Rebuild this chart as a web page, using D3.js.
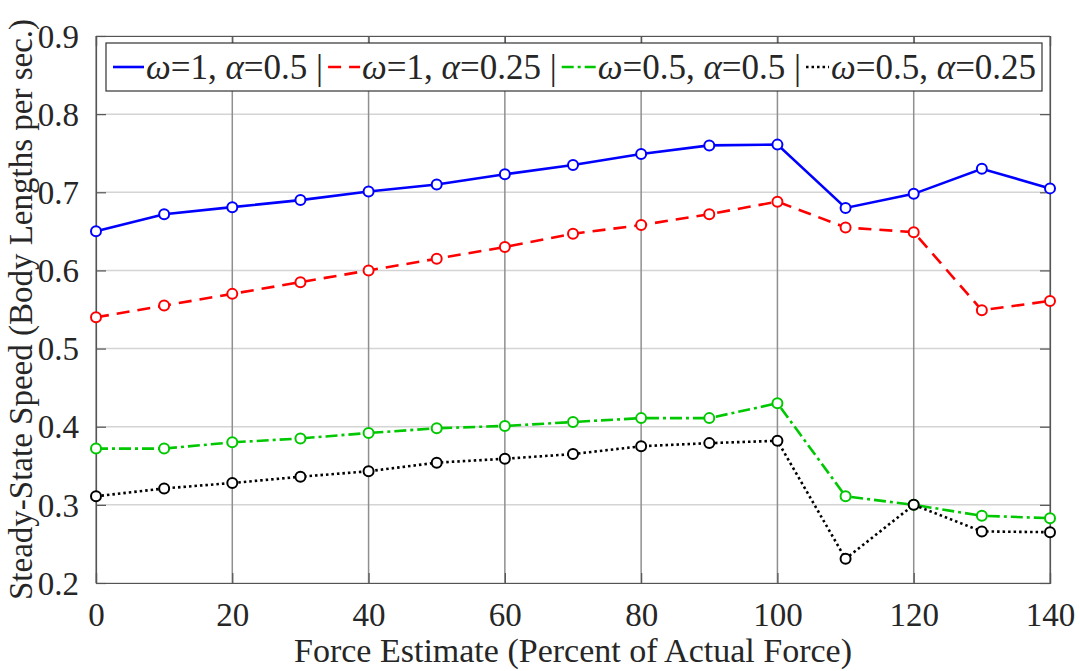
<!DOCTYPE html>
<html>
<head>
<meta charset="utf-8">
<script src="https://cdn.jsdelivr.net/npm/d3@7"></script>
<style>
  body { margin: 0; background: #fff; }
  text { font-family: "Liberation Serif", "Times New Roman", serif; fill: #262626; }
</style>
</head>
<body>
<div id="chart"></div>
<script>
const forceEstimate = [0, 10, 20, 30, 40, 50, 60, 70, 80, 90, 100, 110, 120, 130, 140]
const w1a050 = [0.650, 0.672, 0.681, 0.690, 0.701, 0.710, 0.723, 0.735, 0.749, 0.760, 0.761, 0.680, 0.698, 0.730, 0.705]
const w1a025 = [0.540, 0.555, 0.570, 0.585, 0.600, 0.615, 0.630, 0.647, 0.658, 0.672, 0.688, 0.655, 0.649, 0.549, 0.561]
const w05a050 = [0.372, 0.372, 0.380, 0.385, 0.392, 0.398, 0.401, 0.406, 0.411, 0.411, 0.430, 0.311, 0.300, 0.286, 0.283]
const w05a025 = [0.311, 0.321, 0.328, 0.336, 0.343, 0.354, 0.359, 0.365, 0.375, 0.379, 0.382, 0.231, 0.300, 0.266, 0.265]
const xTicks = [0, 20, 40, 60, 80, 100, 120, 140]
const yTicks = [0.2, 0.3, 0.4, 0.5, 0.6, 0.7, 0.8, 0.9]

const series = [
  { w: '1', a: '0.5', values: w1a050, color: '#0000ff', dash: null, sep: true },
  { w: '1', a: '0.25', values: w1a025, color: '#ff0000', dash: '13,8', sep: true },
  { w: '0.5', a: '0.5', values: w05a050, color: '#00c800', dash: '12,4,3,4', sep: true },
  { w: '0.5', a: '0.25', values: w05a025, color: '#000000', dash: '2.5,3', sep: false }
]

const margin = { top: 36, left: 96, right: 30, bottom: 88 }
const width = 1080 - margin.left - margin.right
const height = 671 - margin.top - margin.bottom

const svg = d3
  .select('#chart')
  .append('svg')
  .attr('width', 1080)
  .attr('height', 671)

const g = svg.append('g')
  .attr('transform', 'translate(' + margin.left + ',' + margin.top + ')')

const xPositionScale = d3.scaleLinear().domain([0, 140]).range([0, width])
const yPositionScale = d3.scaleLinear().domain([0.2, 0.9]).range([height, 0])

// grid
g.selectAll('.hgrid')
  .data(yTicks)
  .enter()
  .append('line')
  .attr('x1', 0)
  .attr('x2', width)
  .attr('y1', d => yPositionScale(d))
  .attr('y2', d => yPositionScale(d))
  .attr('stroke', '#d4d4d4')
  .attr('stroke-width', 1.5)

g.selectAll('.vgrid')
  .data(xTicks)
  .enter()
  .append('line')
  .attr('y1', 0)
  .attr('y2', height)
  .attr('x1', d => xPositionScale(d))
  .attr('x2', d => xPositionScale(d))
  .attr('stroke', '#8f8f8f')
  .attr('stroke-width', 1.5)

// axes (ticks point inward, MATLAB style)
const xAxis = d3.axisBottom(xPositionScale).tickValues(xTicks).tickSize(-10).tickPadding(20)
g.append('g')
  .attr('class', 'axis x-axis')
  .attr('transform', 'translate(0,' + height + ')')
  .call(xAxis)

const yAxis = d3.axisLeft(yPositionScale).tickValues(yTicks).tickSize(-10).tickPadding(17)
  .tickFormat(d3.format('.1f'))
g.append('g')
  .attr('class', 'axis y-axis')
  .call(yAxis)

g.append('g')
  .call(d3.axisTop(xPositionScale).tickValues(xTicks).tickSize(-10).tickFormat(''))
g.append('g')
  .attr('transform', 'translate(' + width + ',0)')
  .call(d3.axisRight(yPositionScale).tickValues(yTicks).tickSize(-10).tickFormat(''))

g.selectAll('.domain').attr('stroke', '#555').attr('stroke-width', 1.2)
g.selectAll('.tick line').attr('stroke', '#555').attr('stroke-width', 1.2)
g.selectAll('.tick text')
  .style('font-family', '"Liberation Serif", serif')
  .attr('font-size', 33)
  .attr('fill', '#262626')
g.selectAll('.y-axis .tick text').attr('dy', '0.34em')

// lines
const line = d3.line()
  .x((d, i) => xPositionScale(forceEstimate[i]))
  .y(d => yPositionScale(d))

series.forEach(s => {
  g.append('path')
    .datum(s.values)
    .attr('d', line)
    .attr('fill', 'none')
    .attr('stroke', s.color)
    .attr('stroke-width', 2.6)
    .attr('stroke-dasharray', s.dash)

  g.selectAll(null)
    .data(s.values)
    .enter()
    .append('circle')
    .attr('cx', (d, i) => xPositionScale(forceEstimate[i]))
    .attr('cy', d => yPositionScale(d))
    .attr('r', 5)
    .attr('fill', '#fff')
    .attr('stroke', s.color)
    .attr('stroke-width', 2)
})

// axis titles
svg.append('text')
  .text('Force Estimate (Percent of Actual Force)')
  .attr('x', margin.left + width / 2)
  .attr('y', 662)
  .attr('text-anchor', 'middle')
  .attr('font-size', 34)

svg.append('text')
  .text('Steady-State Speed (Body Lengths per sec.)')
  .attr('transform', 'translate(32,' + (margin.top + height / 2) + ') rotate(-90)')
  .attr('text-anchor', 'middle')
  .attr('font-size', 33)

// legend
const legend = svg.append('g')
legend.append('rect')
  .attr('x', 106)
  .attr('y', 43)
  .attr('width', 936)
  .attr('height', 48)
  .attr('fill', '#fff')
  .attr('stroke', '#333')
  .attr('stroke-width', 1.2)

const legendLen = [31, 32, 34, 23]
let cursor = 113
series.forEach((s, i) => {
  const lg = legend.append('g').attr('transform', `translate(${cursor},0)`)
  lg.append('line')
    .attr('x1', 0)
    .attr('x2', legendLen[i])
    .attr('y1', 67)
    .attr('y2', 67)
    .attr('stroke', s.color)
    .attr('stroke-width', 2.6)
    .attr('stroke-dasharray', s.dash)
  const t = lg.append('text')
    .attr('x', legendLen[i] + 2)
    .attr('y', 79)
    .attr('font-size', 35)
  t.append('tspan').attr('font-style', 'italic').text('ω')
  t.append('tspan').text('=' + s.w + ', ')
  t.append('tspan').attr('font-style', 'italic').text('α')
  t.append('tspan').text('=' + s.a + (s.sep ? ' |' : ''))
  cursor += legendLen[i] + 2 + t.node().getComputedTextLength() + 5
})
</script>
</body>
</html>
